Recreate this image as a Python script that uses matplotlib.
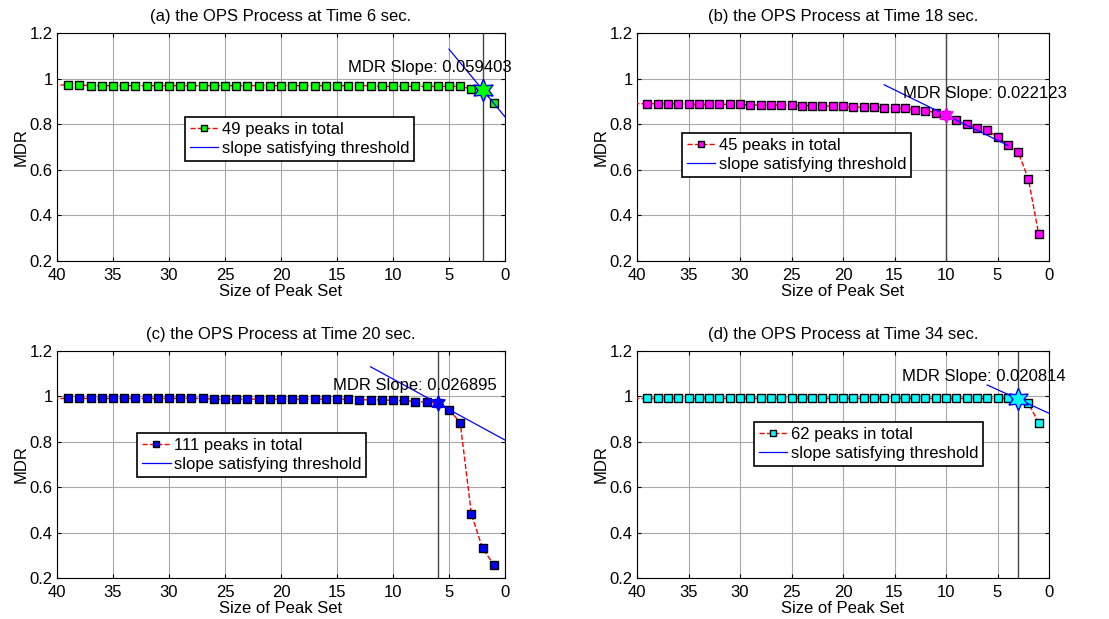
import matplotlib.pyplot as plt
import numpy as np

plt.rcParams['font.family'] = ['Liberation Sans', 'DejaVu Sans']
plt.rcParams['font.size'] = 12

# x positions: size of peak set, 41 down to 1 (xlim cuts at 40)
sizes = np.arange(41, 0, -1)

titles = ['(a) the OPS Process at Time 6 sec.',
          '(b) the OPS Process at Time 18 sec.',
          '(c) the OPS Process at Time 20 sec.',
          '(d) the OPS Process at Time 34 sec.']
labels = ['49 peaks in total', '45 peaks in total',
          '111 peaks in total', '62 peaks in total']

mdr_a = [0.972, 0.972, 0.972, 0.972] + [0.969] * 26 + [0.966] * 8 + [0.955, 0.951, 0.893]
mdr_b = [0.890, 0.890, 0.890, 0.890, 0.890, 0.890,
         0.887, 0.887, 0.887, 0.887, 0.887, 0.887,
         0.884, 0.884, 0.884, 0.884, 0.884,
         0.881, 0.881, 0.881, 0.878, 0.878,
         0.875, 0.875, 0.875, 0.872, 0.869, 0.869,
         0.863, 0.860, 0.850, 0.840, 0.819, 0.802,
         0.783, 0.774, 0.743, 0.710, 0.679, 0.559, 0.317]
mdr_c = [0.991] * 15 + [0.988] * 13 + [0.985, 0.985, 0.985,
         0.982, 0.982, 0.977, 0.975, 0.969, 0.941, 0.885, 0.481, 0.330, 0.259]
mdr_d = [0.991] * 38 + [0.988, 0.969, 0.884]
mdr = [mdr_a, mdr_b, mdr_c, mdr_d]

star_x = [2, 10, 6, 3]
slopes = [0.059403, 0.022123, 0.026895, 0.020814]
slope_half = [3, 6, 6, 3]

face = ['#00ff00', '#ff00ff', '#0000ff', '#00ffff']
star_face = ['#00ff00', '#ff00ff', '#0000ff', '#00ffff']
star_edge = ['#0000ff', '#ff00ff', '#0000ff', '#0000ff']
star_size = [16, 11, 11, 16]

text_pos = [(14.0, 1.05), (14.2, 0.936), (15.4, 1.05), (14.3, 1.087)]
leg_pos = [(0.286, 0.632), (0.109, 0.561), (0.179, 0.639), (0.284, 0.687)]

W, H = 1109, 619
fig = plt.figure(figsize=(W / 100, H / 100), dpi=100)
boxes = [(57, 33, 448, 228), (637, 33, 412, 228),
         (57, 351, 448, 227), (637, 351, 412, 227)]

for i in range(4):
    l, t, w, h = boxes[i]
    ax = fig.add_axes([l / W, 1 - (t + h) / H, w / W, h / H])
    y = np.array(mdr[i])
    ax.plot(sizes, y, 'r--', lw=1, marker='s', ms=6, mfc=face[i], mec='k', mew=1,
            markevery=slice(2, None), label=labels[i], zorder=3)
    ax.axvline(star_x[i], color='#454545', lw=1, zorder=2)
    ys = y[list(sizes).index(star_x[i])]
    xs = np.array([star_x[i] + slope_half[i], star_x[i] - slope_half[i]])
    ax.plot(xs, ys + slopes[i] * (xs - star_x[i]), color='#0000ff', lw=0.9,
            label='slope satisfying threshold', zorder=4)
    ax.plot(star_x[i], ys, marker=(6, 1, 0), ls='none', ms=star_size[i],
            mfc=star_face[i], mec=star_edge[i], mew=1, zorder=5)
    ax.text(text_pos[i][0], text_pos[i][1], 'MDR Slope: %g' % slopes[i],
            ha='left', va='center', clip_on=False, zorder=6)
    ax.set_xlim(40, 0)
    ax.set_ylim(0.2, 1.2)
    ax.set_xticks([40, 35, 30, 25, 20, 15, 10, 5, 0])
    ax.set_yticks([0.2, 0.4, 0.6, 0.8, 1.0, 1.2])
    ax.set_yticklabels(['0.2', '0.4', '0.6', '0.8', '1', '1.2'])
    ax.grid(True, color='#a8a8a8', lw=0.8)
    ax.tick_params(direction='in', top=True, right=True, length=3, pad=3)
    ax.tick_params(axis='x', pad=5)
    ax.set_title(titles[i], fontsize=12, pad=8.5)
    ax.set_xlabel('Size of Peak Set', labelpad=0.5)
    ax.set_ylabel('MDR', labelpad=1)
    leg = ax.legend(loc='upper left', bbox_to_anchor=leg_pos[i], fancybox=False,
                    framealpha=1, edgecolor='k', handlelength=1.7, markerscale=0.8,
                    borderpad=0.3, labelspacing=0.25, handletextpad=0.2,
                    borderaxespad=0)
    leg.get_frame().set_linewidth(1.2)
    leg.set_zorder(7)

plt.savefig('out.png', dpi=100)
plt.close()
